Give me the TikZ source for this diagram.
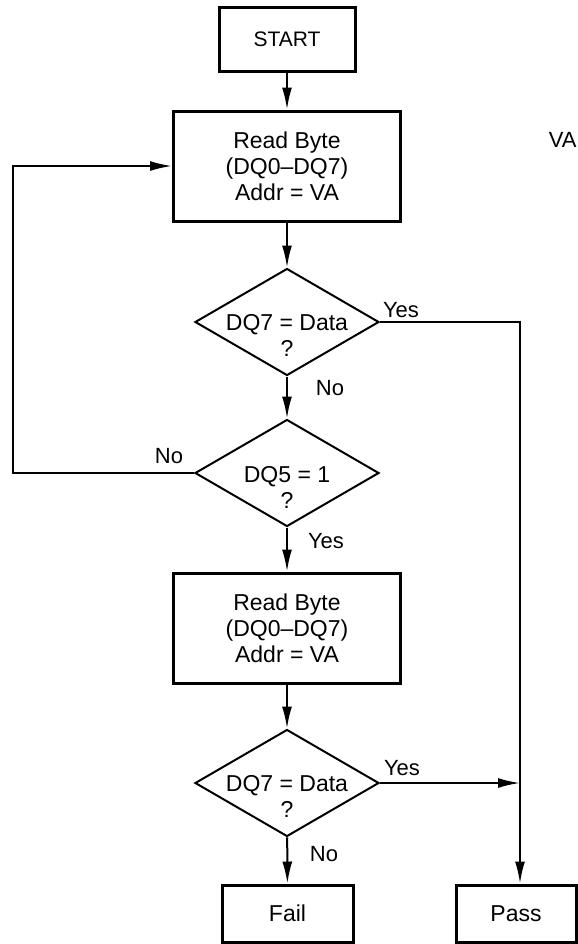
\documentclass[tikz,border=0pt]{standalone}
\usepackage{fontspec}
\setmainfont{Liberation Sans}
\definecolor{ink}{RGB}{0,0,0}
\usetikzlibrary{arrows.meta,shapes.geometric}

\begin{document}
\begin{tikzpicture}[x=0.5pt,y=-0.5pt,
    every node/.style={font=\fontsize{11.5}{13}\selectfont,text=ink},
    stepbox/.style={draw=ink,line width=1.5pt,align=center,inner sep=0pt},
    decision/.style={draw=ink,line width=1pt,diamond,inner sep=0pt,
      minimum width=92pt,minimum height=53.5pt},
    qtext/.style={align=center,inner sep=0pt},
    tag/.style={inner sep=0pt,font=\fontsize{11}{13}\selectfont},
    flow/.style={draw=ink,line width=1pt,-{Latex[length=11pt,width=5pt]}}]
  \useasboundingbox (0,0) rectangle (578,944);
  % boxes
  \node[stepbox,minimum width=68pt,minimum height=32pt,
    font=\fontsize{10.5}{13}\selectfont] (start) at (287,39) {START};
  \node[stepbox,minimum width=113.5pt,minimum height=55pt] (read1) at (287,166)
    {Read Byte\\(DQ0--DQ7)\\Addr = VA};
  \node[stepbox,minimum width=113.5pt,minimum height=55pt] (read2) at (287,628)
    {Read Byte\\(DQ0--DQ7)\\Addr = VA};
  \node[stepbox,minimum width=65.5pt,minimum height=28.5pt] (fail) at (287.5,913.5) {Fail};
  \node[stepbox,minimum width=60pt,minimum height=28.5pt] (pass) at (516,913.5) {Pass};
  % decisions
  \node[decision] (dq7a) at (287,322) {};
  \node[qtext] (dq7a-q) at (287,335) {DQ7 = Data\\?};
  \node[decision] (dq5) at (287,473) {};
  \node[qtext] (dq5-q) at (287,487) {DQ5 = 1\\?};
  \node[decision] (dq7b) at (287,783) {};
  \node[qtext] (dq7b-q) at (287,796) {DQ7 = Data\\?};
  % labels
  \node[tag] (yes1) at (401,310) {Yes};
  \node[tag] (no1) at (330,388) {No};
  \node[tag] (no2) at (169,456) {No};
  \node[tag] (yes2) at (326,541) {Yes};
  \node[tag] (yes3) at (402,768) {Yes};
  \node[tag] (no3) at (324,854) {No};
  \node[tag,anchor=north east] (vanote) at (577,132) {VA};
  % connectors
  \coordinate (passline) at (520,322);
  \coordinate (loopleft) at (13,473);
  \draw[flow] (start) -- (read1);
  \draw[flow] (read1) -- (dq7a);
  \draw[flow] (dq7a) -- (dq5);
  \draw[flow] (dq5) -- (read2);
  \draw[flow] (read2) -- (dq7b);
  \draw[flow] (dq7b) -- (fail);
  \draw[flow] (dq7a.east) -- (passline) -- (passline |- pass.north);
  \draw[flow] (dq5.west) -- (loopleft) |- (read1.west);
  \draw[flow] (dq7b.east) -- (dq7b.east -| passline);
\end{tikzpicture}
\end{document}
